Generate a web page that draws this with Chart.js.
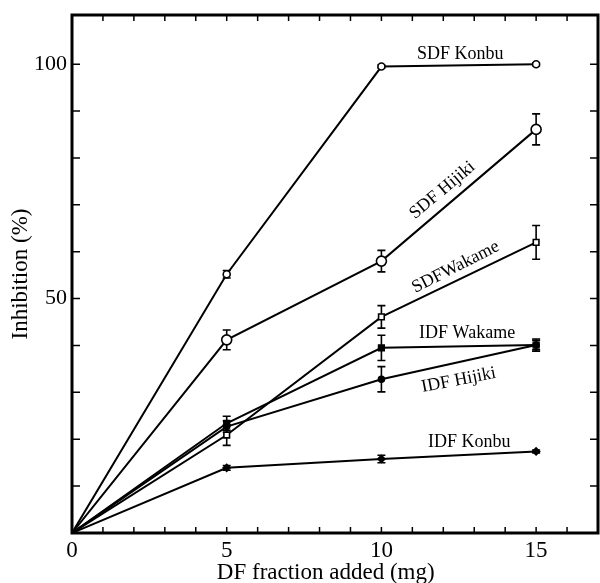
<!DOCTYPE html>
<html lang="en">
  <head>
    <meta charset="UTF-8" />
    <title>DF inhibition</title>
    <style>
      body { margin: 0; background: #fff; }
      #wrap { width: 600px; height: 583px; }
    </style>
  </head>
  <body>
    <div id="wrap"><canvas id="chart" width="600" height="583"></canvas></div>

    <script src="https://cdn.jsdelivr.net/npm/chart.js"></script>
    <script>
      // DF fraction added (mg)
      const doses = [0, 5, 10, 15];

      // Inhibition (%) per fraction
      const sdfKonbu = [0, 55.2, 99.5, 100.0];
      const sdfHijiki = [0, 41.2, 58.0, 86.1];
      const sdfWakame = [0, 20.9, 46.1, 62.0];
      const idfWakame = [0, 23.4, 39.5, 40.1];
      const idfHijiki = [0, 22.7, 32.8, 40.1];
      const idfKonbu = [0, 13.9, 15.8, 17.4];

      // error bars (+/-)
      const sdfKonbuErr = [0, 0.8, 0.3, 0.3];
      const sdfHijikiErr = [0, 2.1, 2.3, 3.3];
      const sdfWakameErr = [0, 2.2, 2.4, 3.6];
      const idfWakameErr = [0, 1.5, 2.7, 1.3];
      const idfHijikiErr = [0, 1.2, 2.7, 1.0];
      const idfKonbuErr = [0, 0.5, 0.8, 0.3];

      const seriesNames = ['SDF Konbu', 'SDF Hijiki', 'SDFWakame', 'IDF Wakame', 'IDF Hijiki', 'IDF Konbu'];

      // in-plot labels: [text, x, y, angle in degrees]
      const notes = [
        ['SDF Konbu', 12.55, 102.1, 0],
        ['SDF Hijiki', 11.97, 73.1, -40],
        ['SDFWakame', 12.4, 56.7, -27],
        ['IDF Wakame', 12.77, 42.6, 0],
        ['IDF Hijiki', 12.5, 32.6, -11],
        ['IDF Konbu', 12.84, 19.4, 0]
      ];

      const xTitle = 'DF fraction added (mg)';

      function pts(vals) {
        return doses.map((d, i) => ({ x: d, y: vals[i] }));
      }

      function series(i, vals, errs, style, radius, filled) {
        return {
          label: seriesNames[i],
          data: pts(vals),
          errs: errs,
          borderColor: '#000',
          borderWidth: 2,
          backgroundColor: filled ? '#000' : '#fff',
          pointBorderColor: '#000',
          pointBorderWidth: 1.6,
          pointStyle: style,
          pointRadius: [0, radius, radius, radius],
          tension: 0
        };
      }

      const serif = '"Liberation Serif", "Times New Roman", serif';

      // inward ticks, frame, error bars, text notes
      const decor = {
        id: 'decor',
        beforeDatasetsDraw(chart) {
          const ctx = chart.ctx;
          const a = chart.chartArea;
          const xs = chart.scales.x, ys = chart.scales.y;
          ctx.save();
          ctx.strokeStyle = '#000';

          // error bars
          ctx.lineWidth = 1.6;
          chart.data.datasets.forEach(ds => {
            ds.data.forEach((p, i) => {
              const e = ds.errs[i];
              if (!e) return;
              const px = xs.getPixelForValue(p.x);
              const top = ys.getPixelForValue(p.y + e);
              const bot = ys.getPixelForValue(p.y - e);
              ctx.beginPath();
              ctx.moveTo(px, top); ctx.lineTo(px, bot);
              ctx.moveTo(px - 4, top); ctx.lineTo(px + 4, top);
              ctx.moveTo(px - 4, bot); ctx.lineTo(px + 4, bot);
              ctx.stroke();
            });
          });

          // ticks
          ctx.lineWidth = 1.5;
          for (let v = 1; v < 17; v++) {
            const px = xs.getPixelForValue(v);
            ctx.beginPath();
            ctx.moveTo(px, a.bottom); ctx.lineTo(px, a.bottom - 6);
            ctx.moveTo(px, a.top); ctx.lineTo(px, a.top + 6);
            ctx.stroke();
          }
          for (let v = 10; v < 110; v += 10) {
            const py = ys.getPixelForValue(v);
            ctx.beginPath();
            ctx.moveTo(a.left, py); ctx.lineTo(a.left + 8, py);
            ctx.moveTo(a.right, py); ctx.lineTo(a.right - 8, py);
            ctx.stroke();
          }

          // frame
          ctx.lineWidth = 3;
          ctx.strokeRect(a.left, a.top, a.right - a.left, a.bottom - a.top);

          // notes
          ctx.fillStyle = '#000';
          ctx.font = '18px ' + serif;
          ctx.textAlign = 'center';
          ctx.textBaseline = 'middle';
          notes.forEach(n => {
            ctx.save();
            ctx.translate(xs.getPixelForValue(n[1]), ys.getPixelForValue(n[2]));
            ctx.rotate(n[3] * Math.PI / 180);
            ctx.fillText(n[0], 0, 0);
            ctx.restore();
          });

          // x axis title (sits a bit left of centre in the original)
          ctx.font = '23px ' + serif;
          ctx.fillText(xTitle, xs.getPixelForValue(8.2), a.bottom + 40);
          ctx.restore();
        }
      };

      new Chart(document.getElementById('chart'), {
        type: 'line',
        data: {
          datasets: [
            series(0, sdfKonbu, sdfKonbuErr, 'circle', 3.5, false),
            series(1, sdfHijiki, sdfHijikiErr, 'circle', 5, false),
            series(2, sdfWakame, sdfWakameErr, 'rect', 4, false),
            series(3, idfWakame, idfWakameErr, 'rect', 4, true),
            series(4, idfHijiki, idfHijikiErr, 'circle', 3, true),
            series(5, idfKonbu, idfKonbuErr, 'rectRot', 3.5, true)
          ]
        },
        options: {
          responsive: false,
          animation: false,
          devicePixelRatio: 1,
          layout: { autoPadding: false, padding: { top: 15, right: 2, left: 0, bottom: 0 } },
          plugins: { legend: { display: false }, tooltip: { enabled: false } },
          scales: {
            x: {
              type: 'linear',
              min: 0,
              max: 17,
              grid: { display: false, drawTicks: false },
              border: { display: false },
              afterFit: s => { s.height = 50; s.paddingLeft = 0; s.paddingRight = 0; },
              ticks: {
                stepSize: 1,
                padding: 4,
                color: '#000',
                font: { family: serif, size: 23 },
                maxRotation: 0,
                autoSkip: false,
                callback: v => (v % 5 === 0 ? String(v) : '')
              },
              title: { display: false }
            },
            y: {
              min: 0,
              max: 110.5,
              grid: { display: false, drawTicks: false },
              border: { display: false },
              afterFit: s => { s.width = 72; s.paddingTop = 0; s.paddingBottom = 0; },
              ticks: {
                stepSize: 10,
                padding: 5,
                color: '#000',
                font: { family: serif, size: 22 },
                autoSkip: false,
                callback: v => (v === 50 || v === 100 ? String(v) : '')
              },
              title: {
                display: true,
                text: 'Inhibition (%)',
                color: '#000',
                font: { family: serif, size: 23 },
                padding: { top: 7, bottom: 0 }
              }
            }
          }
        },
        plugins: [decor]
      });
    </script>
  </body>
</html>
